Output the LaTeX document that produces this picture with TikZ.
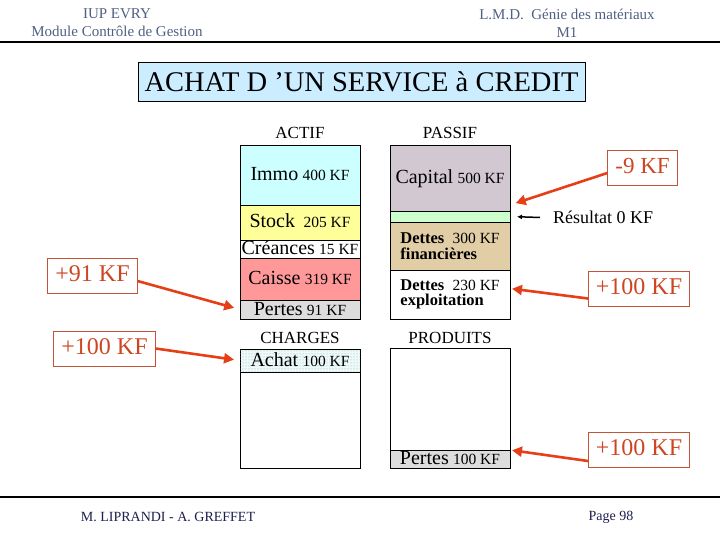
\documentclass[tikz,border=0pt]{standalone}
\usepackage{fontspec}
\setmainfont{Liberation Serif}
\usepackage{tikz}
\usetikzlibrary{arrows.meta, patterns, positioning}
\definecolor{titleblue}{RGB}{204,236,255}
\definecolor{immo}{RGB}{204,255,255}
\definecolor{stock}{RGB}{255,255,153}
\definecolor{caisse}{RGB}{255,153,153}
\definecolor{perte}{RGB}{221,221,221}
\definecolor{capital}{RGB}{210,200,210}
\definecolor{resultat}{RGB}{204,255,204}
\definecolor{dettefin}{RGB}{226,206,166}
\definecolor{achat}{RGB}{236,250,250}
\definecolor{tagred}{RGB}{205,70,35}
\definecolor{tagline}{RGB}{195,85,55}
\definecolor{pushred}{RGB}{230,62,22}
\definecolor{headblue}{RGB}{80,95,130}
\definecolor{footblue}{RGB}{30,30,80}
\newcommand\cellword[1]{{\fontsize{20}{22}\selectfont #1}}
\newcommand\cellkf[1]{{\fontsize{15.5}{17}\selectfont #1}}

\begin{document}
\begin{tikzpicture}[x=1pt, y=-1pt,
    cell/.style={draw, line width=0.8pt, minimum width=120pt, inner sep=0pt, outer sep=0pt,
      font=\fontsize{17}{19}\selectfont},
    one/.style={cell, text height=13pt, text depth=2pt},
    colhead/.style={font=\fontsize{17}{19}\selectfont},
    tag/.style={draw=tagline, line width=0.9pt, text=tagred, font=\fontsize{24}{26}\selectfont,
      inner xsep=7.5pt, inner ysep=7pt, text height=16pt, text depth=5pt},
    push/.style={draw=pushred, line width=2.6pt, -{Triangle[length=10pt, width=10pt]}, shorten >=2pt},
    pagetext/.style={font=\fontsize{15}{18}\selectfont, align=center}]
  \useasboundingbox (0,0) rectangle (720,540);

  % --- page header ---
  \node[pagetext, text=headblue] (iup) at (117,23) {IUP EVRY\\Module Contrôle de Gestion};
  \node[pagetext, text=headblue] (lmd) at (567,23) {L.M.D.\ \ Génie des matériaux\\M1};
  \draw[line width=1.2pt] (0,42) -- (720,42);

  \node[draw, line width=0.8pt, fill=titleblue, minimum width=447pt, minimum height=39pt, inner sep=0pt,
    font=\fontsize{28.5}{30}\selectfont] (title) at (361.5,81.5) {ACHAT D 'UN SERVICE à CREDIT};

  % --- bilan: actif / passif ---
  \node[colhead] (actif) at (300,133) {ACTIF};
  \node[colhead] (passif) at (450,133) {PASSIF};
  \node[one, fill=immo, minimum height=60pt] (immo) at (300,175) {\cellword{Immo} \cellkf{400 KF}};
  \node[one, fill=stock, minimum height=35pt] (stock) at (300,222.5) {\cellword{Stock}\ \ \cellkf{205 KF}};
  \node[one, minimum height=18pt] (creances) at (300,249) {\cellword{Créances} \cellkf{15 KF}};
  \node[one, fill=caisse, minimum height=42pt] (caisse) at (300,279) {\cellword{Caisse} \cellkf{319 KF}};
  \node[one, fill=perte, minimum height=19pt] (pertesA) at (300,309.5) {\cellword{Pertes} \cellkf{91 KF}};

  \node[one, fill=capital, minimum height=66pt] (capital) at (450,178) {\cellword{Capital} \cellkf{500 KF}};
  \node[cell, fill=resultat, minimum height=11pt] (result) at (450,216.5) {};
  \node[cell, fill=dettefin, minimum height=48pt, align=left, font=\fontsize{16.5}{16}\selectfont\bfseries] (dfin) at (450,246)
    {Dettes\ \ {\mdseries\fontsize{15.5}{16}\selectfont 300 KF}\\financières};
  \node[cell, minimum height=49pt, align=left, font=\fontsize{16.5}{15}\selectfont\bfseries] (dexp) at (450,294.5)
    {Dettes\ \ {\mdseries\fontsize{15.5}{15}\selectfont 230 KF}\\exploitation};

  % --- compte de resultat: charges / produits ---
  \node[colhead] (charges) at (300,338) {CHARGES};
  \node[colhead] (produits) at (450,338) {PRODUITS};
  \node[one, fill=achat, postaction={pattern=dots, pattern color=gray!70}, minimum height=23pt] (achatC) at (300,360.5)
    {\cellword{Achat} \cellkf{100 KF}};
  \node[cell, minimum height=96pt] (chrest) at (300,420) {};
  \node[cell, minimum height=102pt] (prrest) at (450,399) {};
  \node[one, fill=perte, minimum height=18pt] (pertesP) at (450,459) {\cellword{Pertes} \cellkf{100 KF}};

  % --- variations ---
  \node[tag] (plus91) at (92.5,276) {+91 KF};
  \node[tag] (plusach) at (104.5,348.5) {+100 KF};
  \node[tag, font=\fontsize{23}{26}\selectfont] (minus9) at (642.5,168) {-9 KF};
  \node[tag] (plusdet) at (639,288.5) {+100 KF};
  \node[tag] (pluspr) at (639,450) {+100 KF};
  \node[anchor=west, inner sep=0pt, font=\fontsize{18}{20}\selectfont] (resu) at (553,217.5) {Résultat 0 KF};

  \draw[push, shorten >=6pt] ([yshift=-5pt]plus91.east) -- (pertesA.west);
  \draw[push, shorten >=6pt] (plusach.east) -- (achatC.west);
  \draw[push, shorten >=6pt] ([yshift=-5pt]minus9.west) -- ([yshift=6pt]capital.south east);
  \draw[push] ([yshift=-10pt]plusdet.west) -- ([yshift=6pt]dexp.east);
  \draw[push] ([yshift=-11pt]pluspr.west) -- (pertesP.north east);
  \draw[line width=1.5pt, -{Latex[length=5pt, width=5pt]}, shorten >=7pt] ([xshift=-13pt]resu.west) -- (result.east);

  % --- page footer ---
  \draw[line width=1.2pt] (0,497) -- (720,497);
  \node[pagetext, text=footblue, font=\fontsize{14}{16}\selectfont] (auteurs) at (168,517) {M. LIPRANDI - A. GREFFET};
  \node[pagetext, text=footblue, font=\fontsize{14}{16}\selectfont] (page) at (611,517) {Page 98};
\end{tikzpicture}
\end{document}
